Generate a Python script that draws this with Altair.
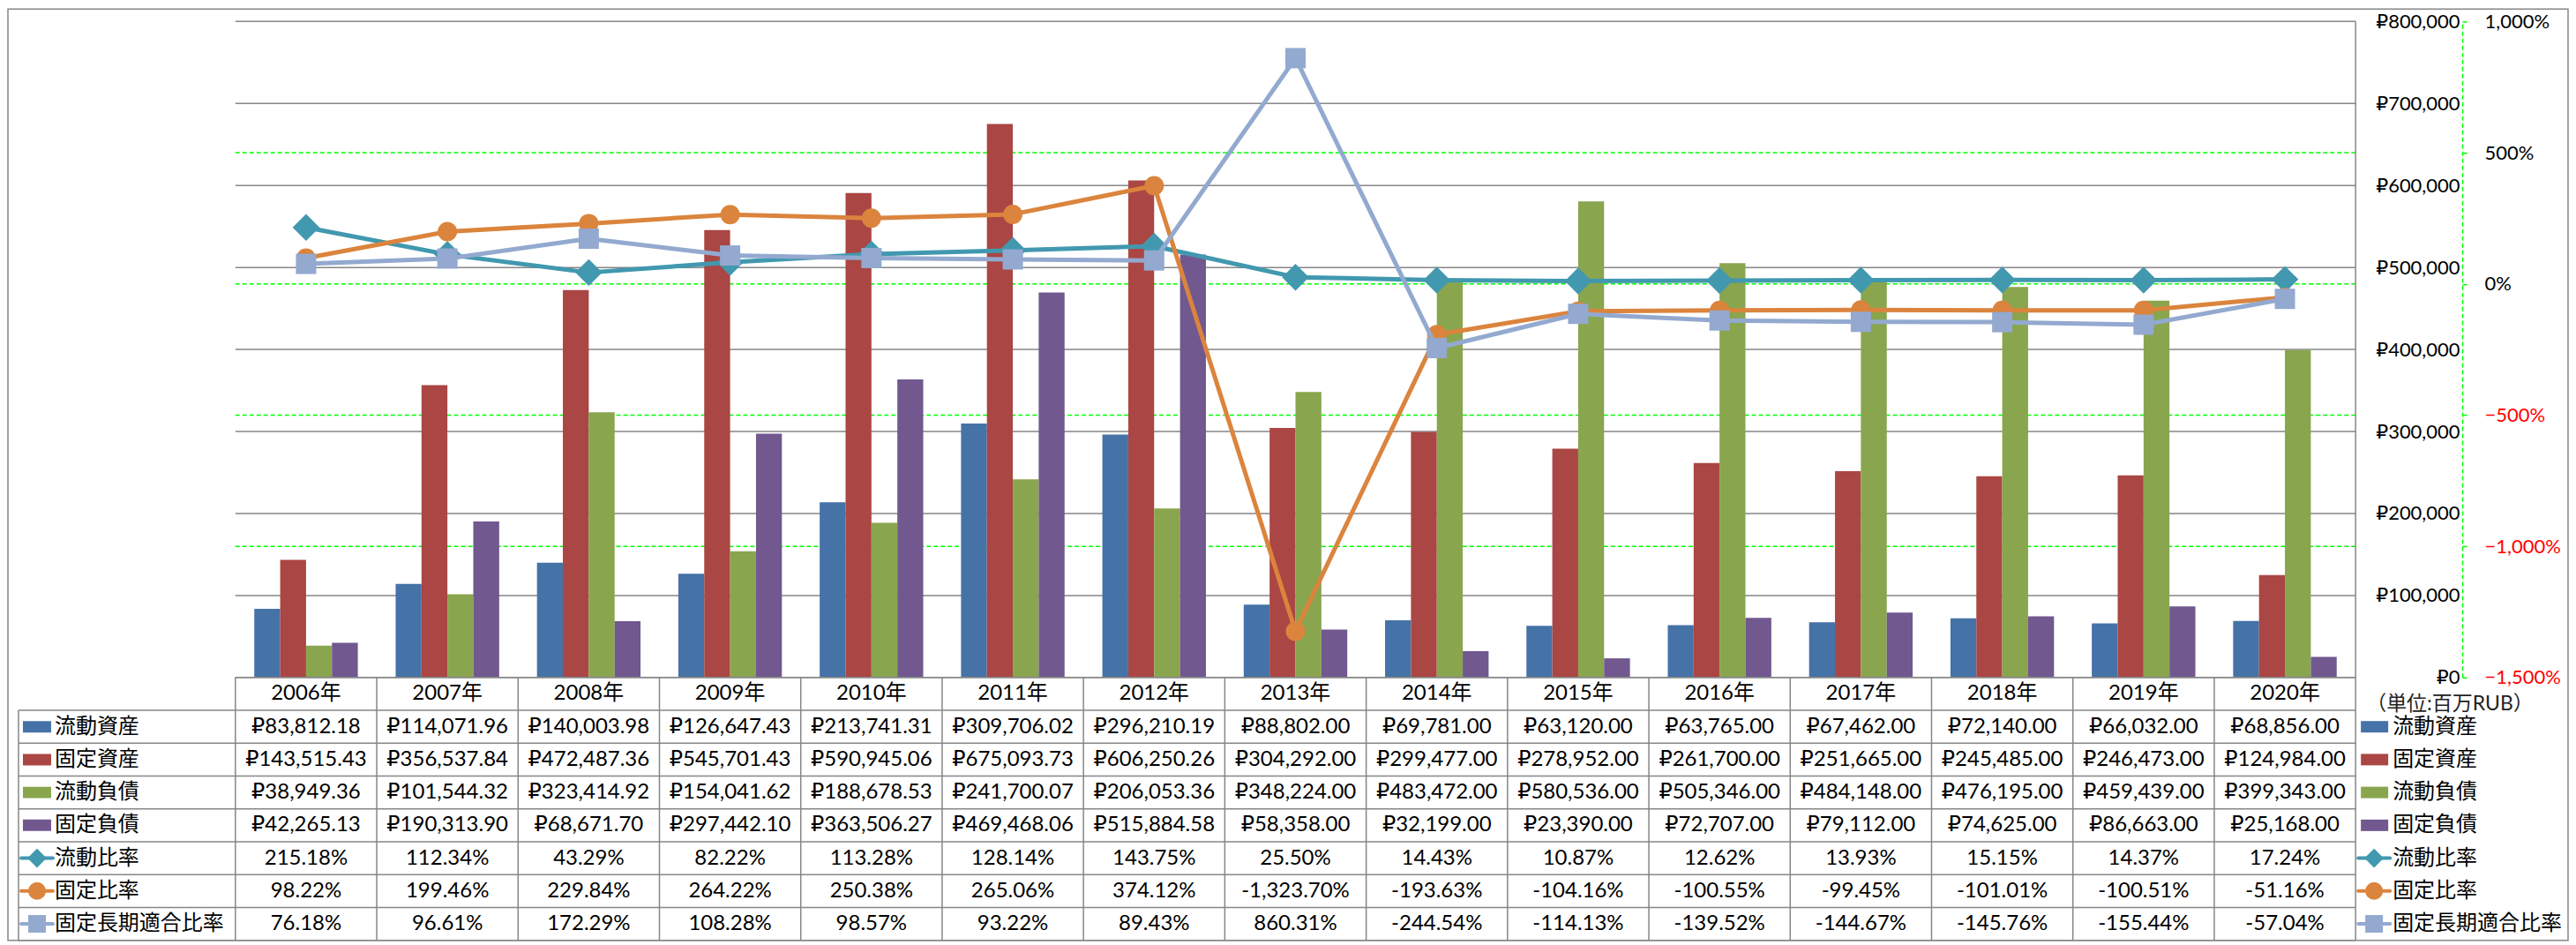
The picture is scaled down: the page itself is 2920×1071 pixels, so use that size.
import altair as alt
import pandas as pd

# ---------------- data ----------------
years = ["2006年", "2007年", "2008年", "2009年", "2010年", "2011年", "2012年", "2013年",
         "2014年", "2015年", "2016年", "2017年", "2018年", "2019年", "2020年"]

current_assets = [83812.18, 114071.96, 140003.98, 126647.43, 213741.31, 309706.02, 296210.19,
                  88802.00, 69781.00, 63120.00, 63765.00, 67462.00, 72140.00, 66032.00, 68856.00]
fixed_assets = [143515.43, 356537.84, 472487.36, 545701.43, 590945.06, 675093.73, 606250.26,
                304292.00, 299477.00, 278952.00, 261700.00, 251665.00, 245485.00, 246473.00, 124984.00]
current_liab = [38949.36, 101544.32, 323414.92, 154041.62, 188678.53, 241700.07, 206053.36,
                348224.00, 483472.00, 580536.00, 505346.00, 484148.00, 476195.00, 459439.00, 399343.00]
fixed_liab = [42265.13, 190313.90, 68671.70, 297442.10, 363506.27, 469468.06, 515884.58,
              58358.00, 32199.00, 23390.00, 72707.00, 79112.00, 74625.00, 86663.00, 25168.00]

current_ratio = [215.18, 112.34, 43.29, 82.22, 113.28, 128.14, 143.75, 25.50,
                 14.43, 10.87, 12.62, 13.93, 15.15, 14.37, 17.24]
fixed_ratio = [98.22, 199.46, 229.84, 264.22, 250.38, 265.06, 374.12, -1323.70,
               -193.63, -104.16, -100.55, -99.45, -101.01, -100.51, -51.16]
fixed_lt_ratio = [76.18, 96.61, 172.29, 108.28, 98.57, 93.22, 89.43, 860.31,
                  -244.54, -114.13, -139.52, -144.67, -145.76, -155.44, -57.04]

bar_names = ["流動資産", "固定資産", "流動負債", "固定負債"]
line_names = ["流動比率", "固定比率", "固定長期適合比率"]
bar_values = [current_assets, fixed_assets, current_liab, fixed_liab]
line_values = [current_ratio, fixed_ratio, fixed_lt_ratio]

bar_colors = ["#4572A7", "#AA4643", "#89A54E", "#71588F"]
line_colors = ["#4198AF", "#DB843D", "#93A9CF"]
line_shapes = ["diamond", "circle", "square"]

money_ticks = [0, 100000, 200000, 300000, 400000, 500000, 600000, 700000, 800000]
pct_ticks = [-1500, -1000, -500, 0, 500, 1000]
pct_grid = [-1000, -500, 0, 500]
unit_label = "（単位:百万RUB）"

# ---------------- layout / style ----------------
W, H, TH = 2405, 744, 298
FONT = "Lato, 'Noto Sans CJK JP', 'DejaVu Sans', sans-serif"
GRAY = "#868686"
GREEN = "#00FF00"

xs = alt.Scale(type="band", domain=years, paddingInner=0, paddingOuter=0)
money = alt.Scale(domain=[0, 800000], nice=False, zero=True)
pct = alt.Scale(domain=[-1500, 1000], nice=False, zero=False)
rows = alt.Scale(domain=[0, 8], range=[H, H + TH], nice=False, zero=False)

bars_df = pd.DataFrame([
    {"cat": years[i], "series": bar_names[s], "value": bar_values[s][i]}
    for s in range(4) for i in range(len(years))
])

money_axis = alt.Axis(orient="right", values=money_ticks,
                      labelExpr="'₽' + format(datum.value, ',')",
                      ticks=False, tickSize=0, domain=False, grid=False,
                      labelPadding=118, labelAlign="right", labelBaseline="middle",
                      labelFont=FONT, labelFontSize=22, labelColor="#000000", title=None)

pct_axis = alt.Axis(orient="right", offset=121, values=pct_ticks,
                    labelExpr="format(datum.value, ',') + '%'",
                    domainColor=GREEN, domainDash=[5, 3], domainWidth=1.5,
                    tickColor=GREEN, tickDash=[5, 3], tickSize=8, tickWidth=1.5,
                    labelPadding=17, labelBaseline="middle", grid=False,
                    labelFont=FONT, labelFontSize=22,
                    labelColor={"condition": {"test": "datum.value < 0", "value": "#FF0000"},
                                "value": "#000000"},
                    title=None)

layers = []

# gridlines
layers.append(
    alt.Chart(pd.DataFrame({"p": pct_grid})).mark_rule(color=GREEN, strokeDash=[5, 3], strokeWidth=1.5)
    .encode(y=alt.Y("p:Q", scale=pct, axis=None))
)
layers.append(
    alt.Chart(pd.DataFrame({"m": money_ticks})).mark_rule(color=GRAY, strokeWidth=1.5)
    .encode(y=alt.Y("m:Q", scale=money, axis=None))
)

# bars
layers.append(
    alt.Chart(bars_df).mark_bar()
    .encode(
        x=alt.X("cat:N", scale=xs, axis=None, sort=years),
        xOffset=alt.XOffset("series:N", scale=alt.Scale(domain=bar_names, paddingOuter=0.73, paddingInner=0)),
        y=alt.Y("value:Q", scale=money, axis=money_axis),
        color=alt.Color("series:N", scale=alt.Scale(domain=bar_names, range=bar_colors), legend=None),
    )
)

# lines with markers
marker_sizes = [930, 484, 529]
for k in range(3):
    df = pd.DataFrame({"cat": years, "v": line_values[k]})
    layers.append(
        alt.Chart(df).mark_line(color=line_colors[k], strokeWidth=5, strokeJoin="round", strokeCap="round")
        .encode(x=alt.X("cat:N", scale=xs, axis=None, bandPosition=0.5),
                y=alt.Y("v:Q", scale=pct, axis=pct_axis if k == 0 else None))
    )
    layers.append(
        alt.Chart(df).mark_point(shape=line_shapes[k], filled=True, opacity=1,
                                 size=marker_sizes[k], color=line_colors[k])
        .encode(x=alt.X("cat:N", scale=xs, axis=None, bandPosition=0.5),
                y=alt.Y("v:Q", scale=pct, axis=None))
    )

# ---------------- table ----------------
# outer border
layers.append(
    alt.Chart(pd.DataFrame({"a": [0]})).mark_rect(fill="#FFFFFF", fillOpacity=0, stroke=GRAY, strokeWidth=1.5)
    .encode(x=alt.value(-258), x2=alt.value(W + 241), y=alt.value(-14), y2=alt.value(H + TH))
)
# horizontal borders
layers.append(
    alt.Chart(pd.DataFrame({"r": [0]})).mark_rule(color=GRAY, strokeWidth=1.5)
    .encode(x=alt.value(0), x2=alt.value(W), y=alt.Y("r:Q", scale=rows, axis=None))
)
layers.append(
    alt.Chart(pd.DataFrame({"r": list(range(1, 9))})).mark_rule(color=GRAY, strokeWidth=1.5)
    .encode(x=alt.value(-246), x2=alt.value(W), y=alt.Y("r:Q", scale=rows, axis=None))
)
# vertical borders
layers.append(
    alt.Chart(pd.DataFrame({"cat": years, "r0": [0] * len(years), "r1": [8] * len(years)}))
    .mark_rule(color=GRAY, strokeWidth=1.5)
    .encode(x=alt.X("cat:N", scale=xs, axis=None, bandPosition=0),
            y=alt.Y("r0:Q", scale=rows, axis=None), y2=alt.Y2("r1:Q"))
)
layers.append(
    alt.Chart(pd.DataFrame({"r0": [1], "r1": [8]})).mark_rule(color=GRAY, strokeWidth=1.5)
    .encode(x=alt.value(-246), y=alt.Y("r0:Q", scale=rows, axis=None), y2=alt.Y2("r1:Q"))
)
layers.append(
    alt.Chart(pd.DataFrame({"a": [0]})).mark_rule(color=GRAY, strokeWidth=1.5)
    .encode(x=alt.value(W), y=alt.value(0), y2=alt.value(H + TH))
)

# header and cell text
header_df = pd.DataFrame({"cat": years, "r": [0.5] * len(years), "t": years})
cells = []
for s in range(4):
    for i, y in enumerate(years):
        cells.append({"cat": y, "r": s + 1.5, "t": f"₽{bar_values[s][i]:,.2f}"})
for k in range(3):
    for i, y in enumerate(years):
        cells.append({"cat": y, "r": k + 5.5, "t": f"{line_values[k][i]:,.2f}%"})
cells_df = pd.concat([header_df, pd.DataFrame(cells)], ignore_index=True)
layers.append(
    alt.Chart(cells_df).mark_text(font=FONT, fontSize=24, color="#000000", align="center", baseline="middle")
    .encode(x=alt.X("cat:N", scale=xs, axis=None, bandPosition=0.5),
            y=alt.Y("r:Q", scale=rows, axis=None), text="t:N")
)

# row names (left) and legend (right)
all_names = bar_names + line_names
names_df = pd.DataFrame({"name": all_names, "r": [i + 1.5 for i in range(7)]})
for xpos in (-205, W + 42):
    layers.append(
        alt.Chart(names_df).mark_text(font=FONT, fontSize=24, color="#000000", align="left", baseline="middle")
        .encode(x=alt.value(xpos), y=alt.Y("r:Q", scale=rows, axis=None), text="name:N")
    )

bar_key_df = pd.DataFrame({"name": bar_names, "r": [i + 1.5 for i in range(4)]})
for x0, x1 in ((-241, -209), (W + 6, W + 37)):
    layers.append(
        alt.Chart(bar_key_df).mark_rule(strokeWidth=13, strokeCap="butt")
        .encode(x=alt.value(x0), x2=alt.value(x1), y=alt.Y("r:Q", scale=rows, axis=None),
                color=alt.Color("name:N", scale=alt.Scale(domain=bar_names, range=bar_colors), legend=None))
    )

key_sizes = [470, 400, 400]
for k in range(3):
    kdf = pd.DataFrame({"name": [line_names[k]], "r": [k + 5.5]})
    for x0, x1, xm in ((-243, -207, -225), (W + 3, W + 39, W + 21)):
        layers.append(
            alt.Chart(kdf).mark_rule(color=line_colors[k], strokeWidth=4, strokeCap="round")
            .encode(x=alt.value(x0), x2=alt.value(x1), y=alt.Y("r:Q", scale=rows, axis=None))
        )
        layers.append(
            alt.Chart(kdf).mark_point(shape=line_shapes[k], filled=True, opacity=1,
                                      size=key_sizes[k], color=line_colors[k])
            .encode(x=alt.value(xm), y=alt.Y("r:Q", scale=rows, axis=None))
        )

# unit label
layers.append(
    alt.Chart(pd.DataFrame({"t": [unit_label], "r": [0.8]}))
    .mark_text(font=FONT, fontSize=23, color="#222222", align="left", baseline="middle")
    .encode(x=alt.value(W + 12), y=alt.Y("r:Q", scale=rows, axis=None), text="t:N")
)

chart = (
    alt.layer(*layers)
    .resolve_scale(y="independent")
    .properties(width=W, height=H, padding={"top": 1, "left": 0, "right": 0, "bottom": 0})
    .configure_view(stroke="transparent")
)

chart.save("out.html", embed_options={"renderer": "svg", "actions": False})
